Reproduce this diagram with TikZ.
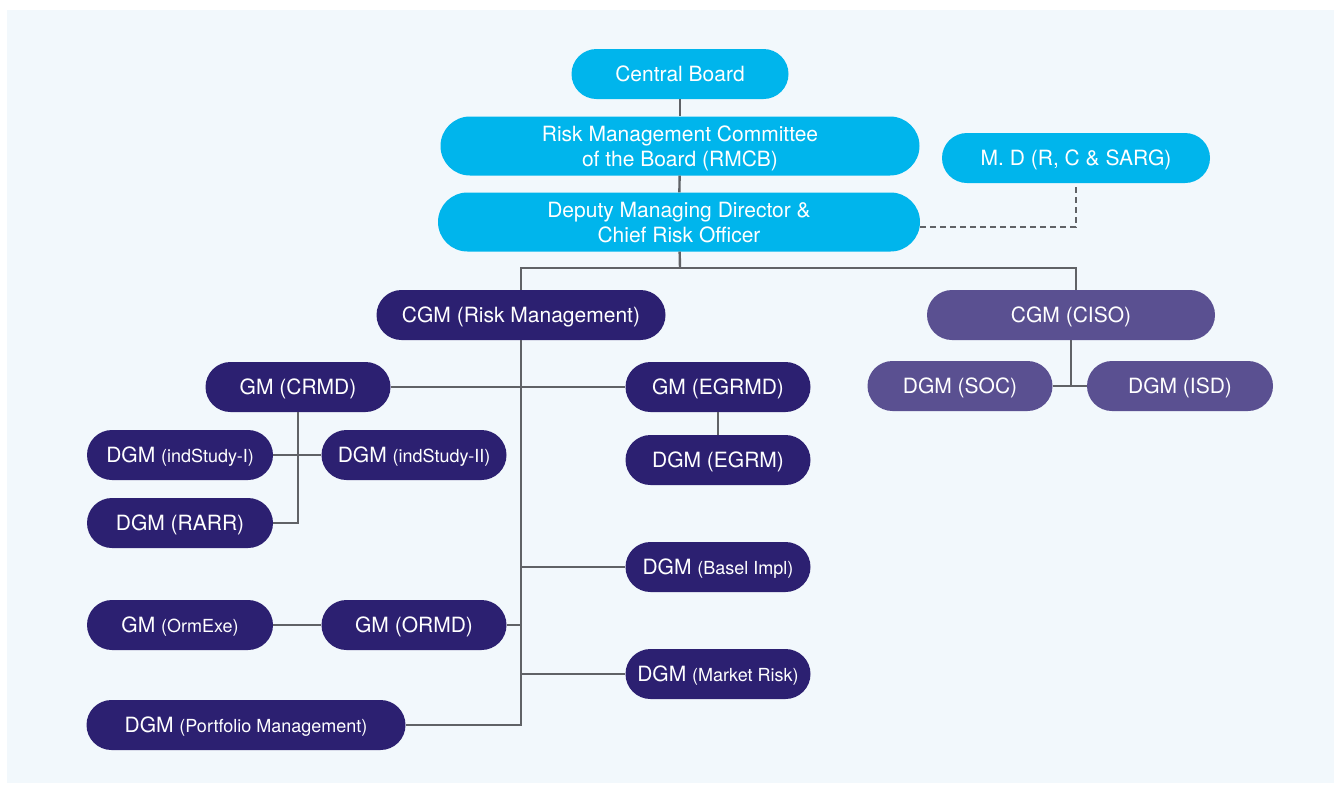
\documentclass[tikz,border=0pt]{standalone}
\usepackage{fontspec}
\setmainfont{TeX Gyre Heros}
\usetikzlibrary{calc}

\definecolor{bgblue}{RGB}{242,248,252}
\definecolor{boardcyan}{RGB}{0,181,236}
\definecolor{rmnavy}{RGB}{44,32,113}
\definecolor{cisopurple}{RGB}{90,80,145}
\definecolor{linegray}{RGB}{96,98,102}

\newcommand{\paren}[1]{{\fontsize{18}{22}\selectfont #1}}

\tikzset{
    unit/.style={text=white, inner sep=0pt, align=center,
        minimum height=50pt, rounded corners=25pt,
        text height=15pt, text depth=0pt,
        font=\fontsize{21}{25}\selectfont},
    board/.style={unit, fill=boardcyan},
    boardtall/.style={board, minimum height=59pt, rounded corners=29.5pt,
        text height=, text depth=0pt},
    risk/.style={unit, fill=rmnavy},
    ciso/.style={unit, fill=cisopurple},
    link/.style={draw=linegray, line width=2.4pt},
}

\begin{document}
\begin{tikzpicture}[x=1pt, y=-1pt]

    \useasboundingbox (0,0) rectangle (1341,785);
    \fill[bgblue] (7,10) rectangle (1334,783);

    % board level
    \node[board, minimum width=217pt] (cb) at (680,74) {Central Board};
    \node[boardtall, minimum width=479pt] (rmcb) at (680,146) {Risk Management Committee\\of the Board (RMCB)};
    \node[boardtall, minimum width=482pt] (dmd) at (679,222) {Deputy Managing Director \&\\Chief Risk Officer};
    \node[board, minimum width=268pt] (md) at (1076,158) {M. D (R, C \& SARG)};
    \draw[link] (cb) -- (rmcb);
    \draw[link] (rmcb) -- (dmd);
    \draw[link, dash pattern=on 6pt off 4pt] ([yshift=-5pt]dmd.east) -| (md.south);

    % chief general managers
    \node[risk, minimum width=289pt] (cgmrm) at (521,315) {CGM (Risk Management)};
    \node[ciso, minimum width=288pt] (cgmciso) at (1071,315) {CGM (CISO)};
    \coordinate (split) at (680,268);
    \draw[link] (dmd) -- (split);
    \draw[link] (cgmrm.north) |- (split) -| ([xshift=5pt]cgmciso.north);

    % CISO wing
    \node[ciso, minimum width=185pt] (dgmsoc) at (960,386) {DGM (SOC)};
    \node[ciso, minimum width=186pt] (dgmisd) at (1180,386) {DGM (ISD)};
    \draw[link] (dgmsoc) -- (dgmisd);
    \draw[link] (cgmciso) -- (cgmciso |- dgmsoc);

    % credit risk
    \node[risk, minimum width=185pt] (gmcrmd) at (298,387) {GM (CRMD)};
    \node[risk, minimum width=186pt] (dgmis1) at (180,455) {DGM \paren{(indStudy-I)}};
    \node[risk, minimum width=185pt] (dgmis2) at (414,455) {DGM \paren{(indStudy-II)}};
    \node[risk, minimum width=186pt] (dgmrarr) at (180,523) {DGM (RARR)};
    \draw[link] (dgmis1) -- (dgmis2);
    \draw[link] (gmcrmd.south) |- (dgmrarr.east);

    % group risk
    \node[risk, minimum width=185pt] (gmegrmd) at (718,387) {GM (EGRMD)};
    \node[risk, minimum width=185pt] (dgmegrm) at (718,460) {DGM (EGRM)};
    \draw[link] (gmcrmd) -- (gmegrmd);
    \draw[link] (gmegrmd) -- (dgmegrm);

    % other desks on the trunk
    \node[risk, minimum width=185pt] (dgmbasel) at (718,567) {DGM \paren{(Basel Impl)}};
    \node[risk, minimum width=185pt] (dgmmkt) at (718,674) {DGM \paren{(Market Risk)}};
    \node[risk, minimum width=185pt] (gmormd) at (414,625) {GM (ORMD)};
    \node[risk, minimum width=186pt] (gmormexe) at (180,625) {GM \paren{(OrmExe)}};
    \node[risk, minimum width=319pt] (dgmpm) at (246,725) {DGM \paren{(Portfolio Management)}};
    \draw[link] (gmormexe) -- (gmormd);
    \draw[link] (cgmrm.south) |- (dgmpm.east);
    \draw[link] (dgmbasel.west) -- (dgmbasel.west -| cgmrm.south);
    \draw[link] (dgmmkt.west) -- (dgmmkt.west -| cgmrm.south);
    \draw[link] (gmormd.east) -- (gmormd.east -| cgmrm.south);

\end{tikzpicture}
\end{document}
